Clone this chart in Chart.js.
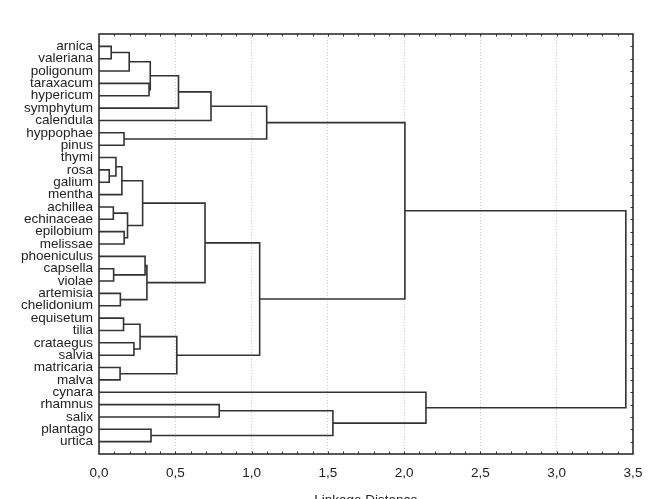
<!DOCTYPE html>
<html>
<head>
<meta charset="utf-8">
<script src="https://cdn.jsdelivr.net/npm/chart.js@4"></script>
<style>
  html, body { margin: 0; padding: 0; background: #fff; overflow: hidden; }
  canvas { display: block; }
</style>
</head>
<body>
<canvas id="dendro" width="648" height="520"></canvas>
<script>
const leaves = [
    'arnica', 'valeriana', 'poligonum', 'taraxacum', 'hypericum', 'symphytum', 'calendula',
    'hyppophae', 'pinus', 'thymi', 'rosa', 'galium', 'mentha', 'achillea', 'echinaceae',
    'epilobium', 'melissae', 'phoeniculus', 'capsella', 'violae', 'artemisia', 'chelidonium',
    'equisetum', 'tilia', 'crataegus', 'salvia', 'matricaria', 'malva', 'cynara', 'rhamnus',
    'salix', 'plantago', 'urtica'
];

// each merge joins two items: a leaf index (0-32) or an earlier merge (33 + merge index)
const mergeA = [0, 33, 3, 34, 36, 37, 7, 38, 10, 9, 42, 13, 15, 44, 43, 18, 17, 20, 49, 47, 22, 24, 53, 26, 55, 52, 40, 29, 31, 60, 28, 59];
const mergeB = [1, 2, 4, 35, 5, 6, 8, 39, 11, 41, 12, 14, 16, 45, 46, 19, 48, 21, 50, 51, 23, 25, 54, 27, 56, 57, 58, 30, 32, 61, 62, 63];
const mergeHeight = [
    0.080, 0.198, 0.328, 0.336, 0.521, 0.734, 0.164, 1.099,
    0.067, 0.111, 0.150, 0.094, 0.165, 0.187, 0.286,
    0.096, 0.302, 0.140, 0.314, 0.695,
    0.161, 0.229, 0.269, 0.138, 0.510, 1.053, 2.005,
    0.788, 0.341, 1.533, 2.143, 3.453
];

const xTicks = [0, 0.5, 1, 1.5, 2, 2.5, 3, 3.5];

// build the elbow links from the merge table
const nodeX = leaves.map(() => 0);
const nodeY = leaves.map((n, i) => i + 1);
const links = [];
mergeA.forEach((a, k) => {
    const b = mergeB[k];
    const h = mergeHeight[k];
    links.push({
        data: [
            { x: nodeX[a], y: nodeY[a] },
            { x: h, y: nodeY[a] },
            { x: h, y: nodeY[b] },
            { x: nodeX[b], y: nodeY[b] }
        ],
        showLine: true,
        borderColor: '#333',
        borderWidth: 1.6,
        pointRadius: 0,
        tension: 0
    });
    nodeX.push(h);
    nodeY.push((nodeY[a] + nodeY[b]) / 2);
});

// frame with small inward ticks, like the original
const frame = {
    id: 'frame',
    afterDraw(chart) {
        const { ctx, chartArea: a, scales: { x, y } } = chart;
        ctx.save();
        ctx.strokeStyle = '#2e2e2e';
        ctx.lineWidth = 1;
        ctx.beginPath();
        for (let i = 1; i < 35; i++) {
            const px = Math.round(x.getPixelForValue(i / 10)) + 0.5;
            ctx.moveTo(px, a.top); ctx.lineTo(px, a.top + 2.5);
            ctx.moveTo(px, a.bottom); ctx.lineTo(px, a.bottom - 2.5);
        }
        leaves.forEach((n, i) => {
            const py = Math.round(y.getPixelForValue(i + 1)) + 0.5;
            ctx.moveTo(a.right, py); ctx.lineTo(a.right - 2.5, py);
        });
        ctx.stroke();
        ctx.lineWidth = 1.6;
        ctx.strokeRect(a.left, a.top, a.right - a.left, a.bottom - a.top);
        ctx.restore();
    }
};

new Chart(document.getElementById('dendro'), {
    type: 'scatter',
    data: { datasets: links },
    options: {
        responsive: false,
        animation: false,
        devicePixelRatio: 1,
        layout: { padding: { top: 34, right: 15, left: 0, bottom: 0 } },
        plugins: {
            legend: { display: false },
            tooltip: { enabled: false }
        },
        scales: {
            x: {
                type: 'linear',
                min: 0,
                max: 3.5,
                afterBuildTicks: (axis) => { axis.ticks = xTicks.map(v => ({ value: v })); },
                afterFit: (axis) => {
                    axis.height = 66;
                    axis.paddingLeft = 0;
                    axis.paddingRight = 0;
                },
                ticks: {
                    callback: (v) => v.toFixed(1).replace('.', ','),
                    font: { family: 'Liberation Sans', size: 13.5 },
                    color: '#222',
                    padding: 11,
                    maxRotation: 0
                },
                grid: {
                    drawTicks: false,
                    color: (c) => (c.tick && (c.tick.value === 0 || c.tick.value === 3.5)) ? 'rgba(0,0,0,0)' : '#cdcdcd',
                    lineWidth: 1
                },
                border: { display: false, dash: [1, 2] },
                title: {
                    display: true,
                    text: 'Linkage Distance',
                    font: { family: 'Liberation Sans', size: 13.5 },
                    color: '#222',
                    padding: { top: 0, bottom: 12 }
                }
            },
            y: {
                type: 'linear',
                reverse: true,
                min: 0,
                max: 34,
                afterBuildTicks: (axis) => { axis.ticks = leaves.map((n, i) => ({ value: i + 1 })); },
                afterFit: (axis) => { axis.width = 99; },
                ticks: {
                    autoSkip: false,
                    callback: (v) => leaves[v - 1],
                    font: { family: 'Liberation Sans', size: 13.5 },
                    color: '#222',
                    padding: 6
                },
                grid: { display: false, drawTicks: false },
                border: { display: false }
            }
        }
    },
    plugins: [frame]
});
</script>
</body>
</html>
